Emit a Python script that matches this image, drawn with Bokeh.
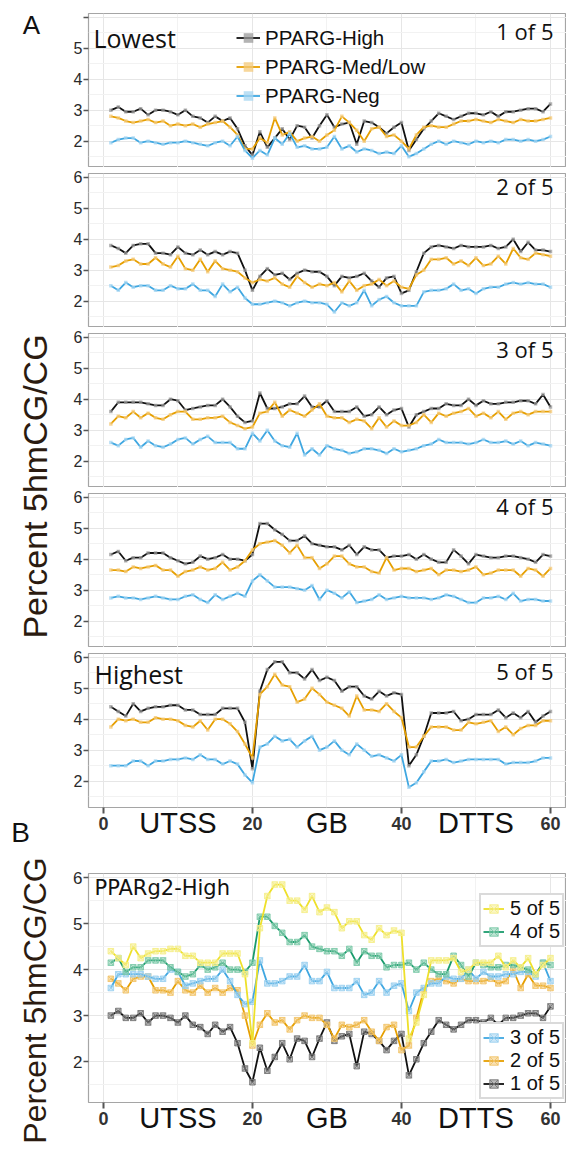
from math import pi
from bokeh.plotting import figure
from bokeh.models import Range1d, FixedTicker, Grid, Label, Legend, LegendItem, LinearAxis
from bokeh.layouts import row, column
from bokeh.embed import file_html
from bokeh.resources import INLINE

bins = list(range(1, 61))

hi_1 = [3.0, 3.1, 2.95, 2.95, 3.05, 2.85, 3.0, 3.0, 2.95, 2.85, 3.0, 2.8, 2.75, 2.6, 2.8, 2.65, 2.75, 2.4, 1.85, 1.55,
        2.3, 1.8, 2.1, 2.4, 2.05, 2.5, 2.45, 2.1, 2.5, 2.85, 2.45, 2.55, 2.6, 1.9, 2.65, 2.6, 2.45, 2.25, 2.45, 2.6,
        1.7, 2.05, 2.4, 2.65, 2.9, 2.8, 2.7, 2.8, 2.9, 2.9, 2.85, 2.95, 2.8, 2.95, 2.95, 3.0, 3.05, 3.05, 2.95, 3.2]
med_1 = [2.8, 2.75, 2.65, 2.6, 2.65, 2.7, 2.6, 2.65, 2.5, 2.55, 2.5, 2.55, 2.45, 2.55, 2.6, 2.65, 2.45, 2.2, 1.75, 1.75,
         2.1, 1.95, 2.75, 2.2, 2.3, 2.0, 2.1, 2.15, 2.0, 2.2, 2.35, 2.8, 2.6, 2.35, 2.0, 2.4, 2.45, 2.15, 2.2, 2.0,
         1.75, 2.2, 2.45, 2.5, 2.45, 2.45, 2.55, 2.65, 2.65, 2.7, 2.65, 2.6, 2.7, 2.65, 2.6, 2.7, 2.65, 2.65, 2.7, 2.75]
neg_1 = [1.95, 2.05, 2.1, 2.1, 1.95, 2.0, 1.95, 1.9, 1.95, 1.95, 2.0, 1.95, 1.9, 1.85, 1.95, 2.0, 1.85, 2.15, 1.7, 1.45,
         1.7, 1.55, 2.1, 1.9, 2.25, 1.8, 1.85, 1.75, 1.75, 1.8, 2.15, 1.75, 1.85, 1.65, 1.75, 1.7, 1.6, 1.65, 1.6, 1.85,
         1.5, 1.6, 1.75, 1.9, 2.0, 1.9, 2.0, 1.95, 1.9, 2.0, 1.95, 2.0, 1.95, 2.05, 2.05, 2.0, 2.05, 2.0, 2.05, 2.15]

hi_2 = [3.8, 3.7, 3.55, 3.8, 3.85, 3.85, 3.55, 3.55, 3.5, 3.75, 3.55, 3.5, 3.65, 3.5, 3.6, 3.5, 3.6, 3.55, 3.0, 2.35,
        2.8, 3.05, 2.85, 2.9, 2.7, 2.9, 3.0, 2.95, 2.95, 2.8, 2.5, 2.8, 2.75, 2.8, 2.9, 2.65, 2.45, 2.75, 2.8, 2.25,
        2.35, 2.95, 3.55, 3.75, 3.8, 3.75, 3.7, 3.8, 3.75, 3.75, 3.75, 3.8, 3.7, 3.75, 4.0, 3.6, 3.9, 3.65, 3.65, 3.6]
med_2 = [3.1, 3.15, 3.3, 3.35, 3.2, 3.2, 3.4, 3.2, 3.1, 3.45, 3.05, 3.0, 3.35, 2.95, 3.3, 3.05, 3.0, 2.95, 2.75, 2.6,
         2.7, 2.65, 2.75, 2.55, 2.45, 2.8, 2.6, 2.45, 2.55, 2.5, 2.6, 2.3, 2.65, 2.35, 2.5, 2.55, 2.7, 2.5, 2.65, 2.45,
         2.4, 2.85, 3.0, 3.35, 3.35, 3.4, 3.2, 3.3, 3.15, 3.4, 3.15, 3.2, 3.45, 3.2, 3.7, 3.4, 3.35, 3.55, 3.5, 3.45]
neg_2 = [2.5, 2.35, 2.6, 2.45, 2.5, 2.5, 2.35, 2.35, 2.5, 2.4, 2.4, 2.55, 2.35, 2.35, 2.15, 2.55, 2.3, 2.45, 2.1, 1.9,
         1.9, 1.95, 2.0, 1.95, 1.85, 1.95, 2.0, 1.95, 1.95, 1.9, 1.65, 1.95, 1.85, 1.95, 2.35, 1.85, 2.05, 2.15, 1.95, 1.85,
         1.85, 1.85, 2.3, 2.35, 2.35, 2.4, 2.55, 2.35, 2.4, 2.25, 2.4, 2.45, 2.45, 2.55, 2.6, 2.55, 2.6, 2.55, 2.55, 2.45]

hi_3 = [3.6, 3.9, 3.9, 3.9, 3.9, 3.85, 3.8, 3.8, 4.0, 3.95, 3.65, 3.7, 3.75, 3.8, 3.8, 4.0, 3.75, 3.45, 3.25, 3.3,
        4.2, 3.7, 3.7, 3.75, 3.85, 3.85, 4.1, 3.75, 3.75, 3.95, 3.6, 3.6, 3.6, 3.75, 3.45, 3.5, 3.75, 3.5, 3.65, 3.7,
        3.1, 3.5, 3.6, 3.7, 3.7, 3.85, 3.8, 3.8, 4.0, 3.8, 3.95, 3.85, 3.85, 3.9, 3.9, 3.95, 3.95, 3.85, 4.15, 3.75]
med_3 = [3.2, 3.45, 3.4, 3.6, 3.4, 3.55, 3.4, 3.35, 3.5, 3.6, 3.6, 3.35, 3.35, 3.4, 3.4, 3.45, 3.25, 3.15, 3.05, 3.1,
         3.55, 3.6, 3.9, 3.45, 3.65, 3.55, 3.45, 3.65, 3.85, 3.45, 3.4, 3.4, 3.25, 3.35, 3.3, 3.05, 3.4, 3.1, 3.3, 3.15,
         3.15, 3.25, 3.5, 3.25, 3.55, 3.45, 3.55, 3.6, 3.7, 3.45, 3.55, 3.4, 3.6, 3.35, 3.55, 3.6, 3.5, 3.6, 3.6, 3.6]
neg_3 = [2.6, 2.5, 2.7, 2.75, 2.45, 2.65, 2.5, 2.45, 2.55, 2.7, 2.75, 2.55, 2.7, 2.8, 2.6, 2.6, 2.6, 2.4, 2.4, 2.9,
         2.65, 3.0, 2.65, 2.5, 2.45, 2.9, 2.2, 2.4, 2.2, 2.5, 2.4, 2.35, 2.25, 2.3, 2.4, 2.4, 2.35, 2.25, 2.4, 2.3,
         2.35, 2.4, 2.5, 2.55, 2.7, 2.6, 2.6, 2.6, 2.55, 2.6, 2.7, 2.6, 2.6, 2.65, 2.55, 2.65, 2.5, 2.6, 2.55, 2.5]

hi_4 = [4.15, 4.25, 3.95, 4.05, 4.05, 4.2, 4.2, 4.2, 4.05, 3.95, 3.85, 3.9, 4.1, 4.0, 4.05, 4.15, 4.0, 4.0, 3.95, 4.15,
        5.15, 5.15, 4.95, 4.8, 4.6, 4.6, 4.75, 4.5, 4.45, 4.4, 4.4, 4.3, 4.45, 4.15, 4.4, 4.3, 4.3, 4.05, 4.1, 4.1,
        4.15, 4.0, 4.15, 4.0, 3.9, 3.9, 4.3, 4.1, 3.85, 4.15, 4.1, 4.05, 4.05, 4.1, 4.1, 4.05, 4.0, 3.9, 4.15, 4.1]
med_4 = [3.65, 3.65, 3.6, 3.75, 3.7, 3.75, 3.8, 3.65, 3.65, 3.45, 3.6, 3.65, 3.75, 3.65, 3.7, 3.9, 3.65, 3.75, 3.95, 4.3,
         4.5, 4.55, 4.6, 4.45, 4.2, 4.45, 4.05, 4.05, 3.7, 3.85, 4.1, 4.1, 3.85, 3.75, 3.75, 3.6, 3.55, 4.05, 3.65, 3.7,
         3.7, 3.6, 3.65, 3.7, 3.5, 3.65, 3.65, 3.6, 3.65, 3.75, 3.5, 3.55, 3.65, 3.65, 3.65, 3.45, 3.7, 3.65, 3.45, 3.7]
neg_4 = [2.75, 2.8, 2.75, 2.75, 2.7, 2.75, 2.8, 2.75, 2.7, 2.7, 2.8, 2.85, 2.7, 2.6, 2.85, 2.7, 2.8, 2.9, 2.8, 3.3,
         3.5, 3.3, 3.1, 3.1, 3.1, 3.05, 3.0, 3.15, 2.7, 3.0, 2.9, 2.75, 2.95, 2.6, 2.65, 2.7, 2.85, 2.7, 2.75, 2.8,
         2.75, 2.75, 2.75, 2.7, 2.75, 2.85, 2.8, 2.7, 2.6, 2.6, 2.75, 2.75, 2.8, 2.7, 2.9, 2.65, 2.7, 2.7, 2.65, 2.65]

hi_5 = [4.4, 4.25, 4.1, 4.5, 4.25, 4.35, 4.4, 4.4, 4.45, 4.45, 4.3, 4.3, 4.15, 4.15, 4.15, 4.35, 4.35, 4.35, 3.9, 2.4,
        4.9, 5.6, 5.85, 5.85, 5.5, 5.5, 5.3, 5.6, 5.25, 5.35, 5.25, 4.9, 5.05, 5.05, 4.75, 4.65, 4.9, 4.75, 4.85, 4.8,
        2.5, 2.85, 3.45, 4.2, 4.2, 4.2, 4.25, 3.95, 4.0, 4.15, 4.15, 4.15, 4.3, 4.05, 4.2, 4.05, 4.25, 3.9, 4.1, 4.25]
med_5 = [3.75, 4.0, 3.95, 4.0, 3.9, 3.9, 4.05, 4.0, 4.0, 3.95, 3.8, 3.75, 3.95, 3.65, 4.0, 4.0, 3.85, 3.6, 3.2, 2.75,
         4.8, 5.05, 5.45, 5.1, 5.05, 4.55, 4.65, 5.0, 4.8, 4.55, 4.45, 4.35, 4.1, 4.75, 4.3, 4.3, 4.25, 4.5, 4.25, 4.05,
         3.1, 3.1, 3.45, 3.75, 3.75, 3.75, 3.65, 3.65, 3.9, 3.85, 3.9, 3.95, 3.6, 3.75, 3.5, 3.7, 3.8, 3.8, 3.95, 3.95]
neg_5 = [2.5, 2.5, 2.5, 2.65, 2.65, 2.5, 2.65, 2.65, 2.7, 2.7, 2.75, 2.7, 2.85, 2.7, 2.7, 2.55, 2.65, 2.55, 2.2, 1.95,
         3.1, 3.2, 3.45, 3.3, 3.35, 3.1, 3.3, 3.45, 3.0, 3.1, 3.3, 3.0, 2.85, 3.2, 3.0, 2.8, 2.85, 2.75, 2.65, 2.85,
         1.8, 1.95, 2.3, 2.65, 2.65, 2.7, 2.6, 2.65, 2.7, 2.7, 2.7, 2.7, 2.7, 2.55, 2.6, 2.6, 2.6, 2.65, 2.75, 2.75]

group_names = ["PPARG-High", "PPARG-Med/Low", "PPARG-Neg"]
quintile_labels = ["1 of 5", "2 of 5", "3 of 5", "4 of 5", "5 of 5"]
x_tick_values = [0, 20, 40, 60]
region_names = ["UTSS", "GB", "DTTS"]
region_centers = [10, 30, 50]
y_ticks = [2, 3, 4, 5, 6]

A_COLORS = ["#111111", "#E69F00", "#3FA7E1"]
A_MARK = ["#9a9a9a", "#F4C97A", "#A5D5F2"]
B_COLORS = ["#111111", "#E69F00", "#3FA7E1", "#1A9B6C", "#EEE02A"]
B_MARK = ["#777777", "#F2C46A", "#9BD0F0", "#7CC9A8", "#F5EE8A"]

X_RANGE = (-2.0, 62.15)
FRAME_W = 478
LEFT_B = 28
SANS = "Liberation Sans"
HUM = "Open Sans"


def base_panel(height, top, bottom, yr, show_x):
    p = figure(width=LEFT_B + FRAME_W, height=height,
               x_range=Range1d(*X_RANGE), y_range=Range1d(*yr),
               x_axis_location="below" if show_x else None,
               output_backend="svg", toolbar_location=None,
               min_border_left=LEFT_B, min_border_right=0,
               min_border_top=top, min_border_bottom=bottom,
               background_fill_color="white", border_fill_color="white",
               outline_line_color="#a5a5a5", outline_line_width=1.2)
    p.grid.visible = False
    p.add_layout(Grid(dimension=0, ticker=FixedTicker(ticks=x_tick_values, minor_ticks=region_centers),
                      grid_line_color="#e6e6e6", grid_line_width=1,
                      minor_grid_line_color="#f2f2f2", minor_grid_line_width=1))
    p.add_layout(Grid(dimension=1, ticker=FixedTicker(ticks=y_ticks, minor_ticks=[1.5, 2.5, 3.5, 4.5, 5.5]),
                      grid_line_color="#e6e6e6", grid_line_width=1,
                      minor_grid_line_color="#f2f2f2", minor_grid_line_width=1))
    ya = p.yaxis[0]
    ya.ticker = FixedTicker(ticks=y_ticks)
    ya.axis_line_color = None
    ya.major_tick_out = 5
    ya.major_tick_in = 0
    ya.major_tick_line_color = "#555555"
    ya.major_tick_line_width = 1.5
    ya.minor_tick_line_color = None
    ya.major_label_text_font = SANS
    ya.major_label_text_font_size = "16px"
    ya.major_label_text_color = "#2a2a2a"
    ya.major_label_standoff = 1
    if show_x:
        xa = p.xaxis[0]
        xa.ticker = FixedTicker(ticks=x_tick_values)
        xa.axis_line_color = None
        xa.major_tick_out = 6
        xa.major_tick_in = 0
        xa.major_tick_line_color = "#555555"
        xa.major_tick_line_width = 2
        xa.minor_tick_line_color = None
        xa.major_label_text_font = SANS
        xa.major_label_text_font_size = "18px"
        xa.major_label_text_font_style = "bold"
        xa.major_label_text_color = "#333333"
        xa.major_label_standoff = 3
        ra = LinearAxis(ticker=FixedTicker(ticks=region_centers),
                        major_label_overrides=dict(zip(region_centers, region_names)),
                        axis_line_color=None, major_tick_line_color=None,
                        minor_tick_line_color=None, major_tick_out=0, major_tick_in=0,
                        major_label_text_font=SANS, major_label_text_font_size="29px",
                        major_label_text_color="#111111", major_label_standoff=-26)
        p.add_layout(ra, "below")
    return p


A_YR = (1.15, 6.12)
A_FRAME_H = 154
series_A = [(hi_1, med_1, neg_1), (hi_2, med_2, neg_2), (hi_3, med_3, neg_3),
            (hi_4, med_4, neg_4), (hi_5, med_5, neg_5)]
# (figure height, top border, bottom border, has x axis)
panel_specs = [(167, 13, 0, False), (160, 6, 0, False), (160, 6, 0, False),
               (160, 6, 0, False), (203, 6, 43, True)]
tag_offsets = [17, 12, 15, 12, 17]

panels = []
for i, (vals, spec) in enumerate(zip(series_A, panel_specs)):
    h, t, b, sx = spec
    p = base_panel(h, t, b, A_YR, sx)
    if i == 0:
        p.yaxis[0].major_label_overrides = {6: ""}
    items = []
    for k in range(3):
        ln = p.line(bins, vals[k], line_color=A_COLORS[k], line_width=1.8)
        sc = p.scatter(bins, vals[k], marker="square", size=3.5, fill_color=A_MARK[k],
                       line_color=None, fill_alpha=0.75)
        items.append(LegendItem(label=group_names[k], renderers=[ln, sc]))
    if i == 0:
        leg = Legend(items=items, location=(148, 57), orientation="vertical",
                     padding=0, margin=0, spacing=0, glyph_width=24, glyph_height=29,
                     label_height=29, label_standoff=5, label_text_font=SANS,
                     label_text_font_size="20.5px", label_text_color="#111111",
                     background_fill_alpha=0, border_line_alpha=0)
        p.add_layout(leg)
        p.add_layout(Label(x=5, y=A_FRAME_H - 24, x_units="screen", y_units="screen", text="Lowest",
                           text_font=HUM, text_font_size="25px", text_color="#111111",
                           text_baseline="middle"))
    if i == 4:
        p.add_layout(Label(x=6, y=A_FRAME_H - 20, x_units="screen", y_units="screen", text="Highest",
                           text_font=HUM, text_font_size="25px", text_color="#111111",
                           text_baseline="middle"))
    p.add_layout(Label(x=465, y=A_FRAME_H - tag_offsets[i], x_units="screen", y_units="screen",
                       text=quintile_labels[i], text_font=HUM, text_font_size="22px",
                       text_color="#111111", text_align="right", text_baseline="middle"))
    panels.append(p)

# Panel B
B_YR = (1.11, 6.09)
pb = base_panel(302, 23, 50, B_YR, True)
pb.yaxis[0].major_label_text_font_size = "17px"
hi_all = [hi_1, hi_2, hi_3, hi_4, hi_5]
b_items = []
for k in range(5):
    ln = pb.line(bins, hi_all[k], line_color=B_COLORS[k], line_width=1.8)
    sc = pb.scatter(bins, hi_all[k], marker="square_x", size=5.5, fill_color=B_MARK[k],
                    line_color=B_MARK[k], fill_alpha=0.5, line_alpha=0.9)
    b_items.append(LegendItem(label=quintile_labels[k], renderers=[ln, sc]))

leg_kw = dict(orientation="vertical", padding=2, margin=0, spacing=0, glyph_width=21,
              glyph_height=21, label_height=21, label_standoff=6, label_text_font=SANS,
              label_text_font_size="20px", label_text_color="#111111",
              background_fill_color="white", background_fill_alpha=1,
              border_line_color="#b5b5b5", border_line_width=2)
pb.add_layout(Legend(items=[b_items[4], b_items[3]], location=(391, 155), **leg_kw))
pb.add_layout(Legend(items=[b_items[2], b_items[1], b_items[0]], location=(391, 3), **leg_kw))
pb.add_layout(Label(x=6, y=229 - 14, x_units="screen", y_units="screen", text="PPARg2-High",
                    text_font="DejaVu Sans", text_font_size="21px", text_color="#111111",
                    text_baseline="middle"))

# Left strip with panel letters and y titles
lf = figure(width=60, height=1152, x_range=Range1d(0, 60), y_range=Range1d(1152, 0),
            x_axis_location=None, y_axis_location=None, min_border=0,
            outline_line_color=None, toolbar_location=None, output_backend="svg",
            background_fill_color="white", border_fill_color="white")
lf.grid.visible = False
lf.add_layout(Label(x=31, y=24, text="A", text_font=SANS, text_font_size="26px",
                    text_color="#111111", text_align="center", text_baseline="middle"))
lf.add_layout(Label(x=20, y=832, text="B", text_font=SANS, text_font_size="28px",
                    text_color="#111111", text_align="center", text_baseline="middle"))
lf.add_layout(Label(x=34, y=486, text="Percent 5hmCG/CG", angle=pi / 2, text_font=SANS,
                    text_font_size="34px", text_color="#2b1b10",
                    text_align="center", text_baseline="middle"))
lf.add_layout(Label(x=34, y=1000, text="Percent 5hmCG/CG", angle=pi / 2, text_font=SANS,
                    text_font_size="32px", text_color="#2b1b10",
                    text_align="center", text_baseline="middle"))

layout = row(lf, column(*panels, pb, spacing=0), spacing=0)
open("out.html", "w").write(file_html(layout, INLINE))
